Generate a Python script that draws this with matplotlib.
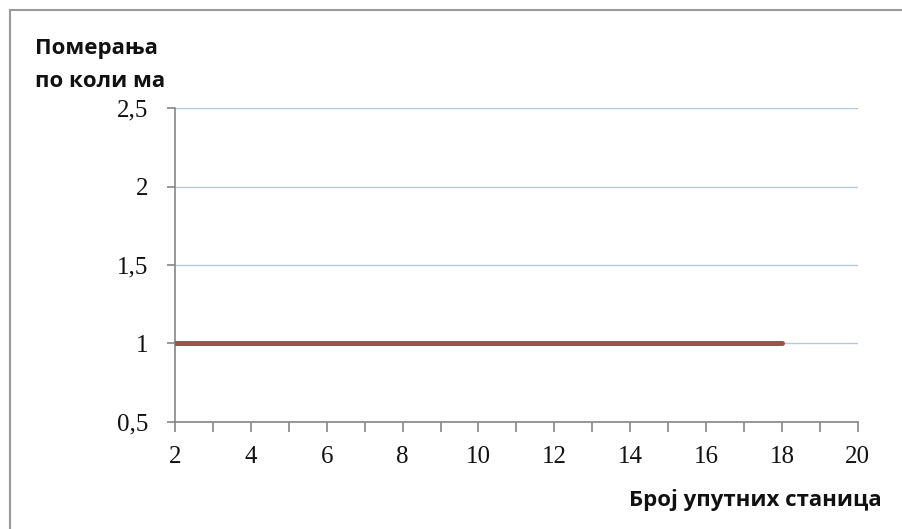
import matplotlib.pyplot as plt
from matplotlib.patches import Rectangle
from matplotlib.ticker import MultipleLocator, FuncFormatter

# number of reference stations vs. shift along the wheels
stations = [2, 3, 4, 5, 6, 7, 8, 9, 10, 11, 12, 13, 14, 15, 16, 17, 18]
shifts = [1, 1, 1, 1, 1, 1, 1, 1, 1, 1, 1, 1, 1, 1, 1, 1, 1]

y_title = 'Померања\nпо коли ма'
x_title = 'Број упутних станица'

fig = plt.figure(figsize=(9.02, 5.29), dpi=100)
ax = fig.add_axes([0.194, 0.2023, 0.757, 0.5935])

# chart frame around the whole figure
fig.patches.append(Rectangle((10 / 902, -0.1), 1.2, 1 - 10 / 529 + 0.1,
                             transform=fig.transFigure, fill=False,
                             edgecolor='#9a9a9a', linewidth=1.5))

ax.plot(stations, shifts, color='#a5504e', linewidth=3.6, solid_capstyle='round',
        zorder=3)

ax.set_xlim(2, 20)
ax.set_ylim(0.5, 2.5)
ax.xaxis.set_major_locator(MultipleLocator(2))
ax.xaxis.set_minor_locator(MultipleLocator(1))
ax.yaxis.set_major_locator(MultipleLocator(0.5))

def comma(v, pos):
    s = ('%g' % v).replace('.', ',')
    return s

ax.yaxis.set_major_formatter(FuncFormatter(comma))

for side in ('top', 'right'):
    ax.spines[side].set_visible(False)
for side in ('left', 'bottom'):
    ax.spines[side].set_color('#868686')
    ax.spines[side].set_linewidth(1.2)

ax.grid(axis='y', color='#b8c8dc', linewidth=1.0)
ax.set_axisbelow(True)

ax.tick_params(axis='both', which='both', color='#868686', width=1.2,
               direction='out')
ax.tick_params(axis='x', which='major', length=7, pad=10)
ax.tick_params(axis='x', which='minor', length=7)
ax.tick_params(axis='y', which='major', length=6, pad=13)

for lbl in ax.get_xticklabels() + ax.get_yticklabels():
    lbl.set_fontfamily('Liberation Serif')
    lbl.set_fontsize(18)
    lbl.set_color('#111111')

fig.text(35 / 902, 1 - 38 / 529, y_title, ha='left', va='top',
         fontsize=16, fontweight='bold', family='Open Sans',
         linespacing=1.75, color='#111111')
fig.text(882 / 902, 1 - 500 / 529, x_title, ha='right', va='center',
         fontsize=16, fontweight='bold', family='Open Sans', color='#111111')

fig.savefig('out.png', dpi=100)
